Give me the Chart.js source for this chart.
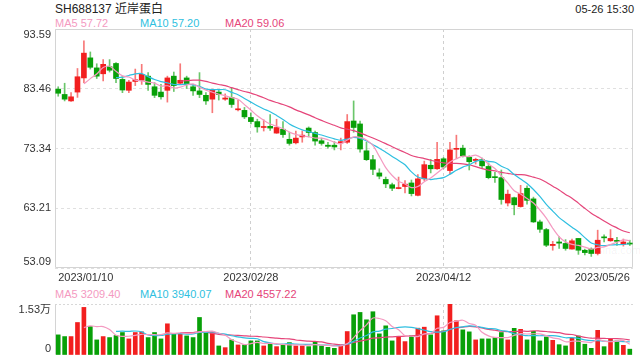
<!DOCTYPE html>
<html>
<head>
<meta charset="utf-8">
<script src="https://cdn.jsdelivr.net/npm/chart.js@4/dist/chart.umd.min.js"></script>
<style>
body{margin:0;width:640px;height:360px;background:#fff;position:relative;overflow:hidden;
  font-family:"Liberation Sans",Arial,"Noto Sans CJK SC",sans-serif;}
.t{position:absolute;white-space:nowrap;line-height:1;}
canvas{position:absolute;left:0;}
</style>
</head>
<body>
<div class="t" style="left:55px;top:3px;font-size:12px;color:#222">SH688137 近岸蛋白</div>
<div class="t" style="right:6px;top:4px;font-size:11px;color:#222">05-26 15:30</div>
<div class="t" style="left:55px;top:18px;font-size:11px;color:#f49ac1">MA5 57.72</div>
<div class="t" style="left:140px;top:18px;font-size:11px;color:#2fbfe0">MA10 57.20</div>
<div class="t" style="left:225px;top:18px;font-size:11px;color:#e5457a">MA20 59.06</div>
<div class="t" style="left:55px;top:289px;font-size:11px;color:#f49ac1">MA5 3209.40</div>
<div class="t" style="left:140px;top:289px;font-size:11px;color:#2fbfe0">MA10 3940.07</div>
<div class="t" style="left:225px;top:289px;font-size:11px;color:#e5457a">MA20 4557.22</div>
<div class="t" style="left:597px;top:245px;font-size:11px;color:rgba(0,0,0,0.06)">sina.com</div>
<canvas id="price" width="640" height="288" style="top:0"></canvas>
<canvas id="vol" width="640" height="60" style="top:300px"></canvas>
<script>
const FONT = '"Liberation Sans", Arial, "Noto Sans CJK SC", sans-serif';

const dates = [
  '2023/01/10','2023/01/11','2023/01/12','2023/01/13','2023/01/16','2023/01/17','2023/01/18','2023/01/19','2023/01/20',
  '2023/01/30','2023/01/31',
  '2023/02/01','2023/02/02','2023/02/03','2023/02/06','2023/02/07','2023/02/08','2023/02/09','2023/02/10',
  '2023/02/13','2023/02/14','2023/02/15','2023/02/16','2023/02/17','2023/02/20','2023/02/21','2023/02/22',
  '2023/02/23','2023/02/24','2023/02/27','2023/02/28',
  '2023/03/01','2023/03/02','2023/03/03','2023/03/06','2023/03/07','2023/03/08','2023/03/09','2023/03/10',
  '2023/03/13','2023/03/14','2023/03/15','2023/03/16','2023/03/17','2023/03/20','2023/03/21','2023/03/22',
  '2023/03/23','2023/03/24','2023/03/27','2023/03/28','2023/03/29','2023/03/30','2023/03/31',
  '2023/04/03','2023/04/04','2023/04/06','2023/04/07','2023/04/10','2023/04/11','2023/04/12','2023/04/13',
  '2023/04/14','2023/04/17','2023/04/18','2023/04/19','2023/04/20','2023/04/21','2023/04/24','2023/04/25',
  '2023/04/26','2023/04/27','2023/04/28',
  '2023/05/04','2023/05/05','2023/05/08','2023/05/09','2023/05/10','2023/05/11','2023/05/12','2023/05/15',
  '2023/05/16','2023/05/17','2023/05/18','2023/05/19','2023/05/22','2023/05/23','2023/05/24','2023/05/25','2023/05/26'
];
const dateTickIdx = [0, 30, 60, 89];
const markerIdx = [30, 60];

const opens = [83.4,82.5,81.4,82.9,85.3,88.7,87.0,86.0,87.2,87.75,85.05,83.2,84.7,84.9,85.6,83.8,82.9,83.2,85.6,84.4,
  85.3,83.8,83.1,82.35,81.7,82.9,81.7,81.96,79.9,79.8,78.6,77.9,76.9,77.1,75.95,76.6,74.9,74.3,75.3,76.8,
  76.05,74.65,73.9,73.9,74.3,74.4,78.0,77.5,72.95,71.45,69.2,68.1,67.2,66.55,66.9,67.5,65.4,68.2,70.5,69.9,
  71.6,69.6,73.2,73.4,71.85,71.3,71.45,70.3,68.5,68.4,64.1,65.0,63.5,66.6,64.8,60.9,59.6,56.9,57.5,57.25,
  56.3,58.1,56.1,56.3,55.55,58.3,57.7,57.7,57.1,57.3];
const highs = [83.8,84.4,82.8,86.9,91.6,89.7,87.7,88.4,88.4,87.9,85.6,84.9,86.8,87.6,86.2,84.5,84.2,85.6,86.3,87.7,
  85.6,84.2,86.2,82.8,83.4,83.25,82.6,83.6,81.55,80.3,79.4,78.3,78.2,79.1,78.3,77.9,76.1,76.3,76.3,77.0,
  76.3,75.1,74.4,74.5,75.1,79.1,81.4,78.0,74.4,72.2,69.9,68.5,67.5,68.5,67.9,68.0,68.9,71.2,71.5,74.4,
  71.8,74.4,75.6,73.9,72.1,71.7,71.7,70.9,69.3,69.7,66.3,65.1,67.1,67.0,65.1,61.2,59.8,57.6,58.4,57.9,
  58.0,58.1,56.3,56.5,59.5,58.7,59.6,58.3,58.0,57.8];
const lows = [82.2,81.4,81.3,82.0,84.5,86.8,85.2,84.8,86.3,84.5,82.8,82.8,84.0,84.2,83.2,81.96,81.7,81.2,83.0,84.2,
  83.5,82.35,81.96,80.8,79.4,81.55,81.5,80.3,79.7,78.4,77.5,76.1,76.3,76.4,75.9,75.2,73.9,74.1,74.4,75.3,
  73.9,73.9,73.4,73.1,73.1,74.2,76.1,72.7,71.3,68.9,68.2,66.7,66.2,66.5,65.8,65.3,65.3,67.9,69.2,69.8,
  69.9,69.0,71.6,71.9,69.7,70.7,70.0,68.2,67.6,63.9,63.6,62.1,63.4,63.9,60.8,59.1,56.7,56.1,56.4,56.1,
  56.3,55.4,55.3,55.05,55.3,57.5,57.6,56.9,56.8,56.9];
const closes = [82.7,81.7,82.1,85.5,89.5,87.1,85.6,87.6,86.6,85.2,83.25,84.6,85.0,85.9,84.2,82.35,82.1,85.3,84.0,84.9,
  84.2,83.1,82.5,81.4,83.2,82.5,81.9,80.8,80.0,78.7,77.9,77.0,77.0,76.8,76.9,75.7,74.2,75.1,75.6,76.05,
  74.6,74.2,73.7,73.6,74.5,77.9,76.9,73.25,71.45,69.8,68.65,67.35,66.6,66.65,67.3,65.7,68.2,70.6,69.9,71.5,
  70.2,73.1,73.3,72.1,71.1,71.5,70.4,68.4,68.4,64.7,65.6,63.8,65.7,64.55,60.9,59.65,56.95,57.1,57.3,56.4,
  57.7,56.1,55.7,55.55,57.8,58.2,58.1,57.6,57.5,57.15];

const ma5 = [null,null,null,null,84.30,85.18,85.96,87.06,87.28,86.42,85.65,85.45,84.93,84.79,84.59,84.41,83.91,83.97,83.59,83.73,
  84.10,84.30,83.74,83.22,82.88,82.54,82.30,81.96,81.68,80.78,79.86,78.88,78.12,77.48,77.12,76.68,76.12,75.74,75.50,75.33,
  75.11,75.11,74.83,74.43,74.12,74.78,75.32,75.23,74.80,73.86,72.01,70.10,68.77,67.81,67.31,66.72,66.89,67.69,68.34,69.18,
  70.08,71.06,71.60,72.04,71.96,72.22,71.68,70.70,69.96,68.68,67.50,66.18,65.64,64.87,64.11,62.92,61.55,59.83,58.38,57.48,
  57.09,56.92,56.64,56.29,56.57,56.67,57.07,57.45,57.84,57.72];
const ma10 = [null,null,null,null,null,null,null,null,null,85.36,85.42,85.71,86.00,86.04,85.51,85.03,84.68,84.45,84.19,84.16,
  84.26,84.11,83.86,83.41,83.31,83.32,83.30,82.85,82.45,81.83,81.20,80.59,80.04,79.58,78.95,78.27,77.50,76.93,76.49,76.23,
  75.90,75.62,75.29,74.97,74.73,74.95,75.22,75.03,74.62,73.99,73.40,72.71,72.00,71.31,70.59,69.37,68.50,68.23,68.08,68.25,
  68.40,68.98,69.65,70.19,70.57,71.15,71.37,71.15,71.00,70.32,69.86,68.93,68.17,67.42,66.40,65.21,63.87,62.74,61.63,60.80,
  60.01,59.24,58.24,57.34,57.03,56.88,57.00,57.05,57.07,57.20];
const ma20 = [null,null,null,null,null,null,null,null,null,null,null,null,null,null,null,null,null,null,null,84.76,
  84.84,84.91,84.93,84.72,84.41,84.18,83.99,83.65,83.32,83.00,82.73,82.35,81.95,81.49,81.13,80.80,80.40,79.89,79.47,79.03,
  78.55,78.10,77.66,77.27,76.84,76.61,76.36,75.98,75.55,75.11,74.65,74.16,73.64,73.14,72.66,72.16,71.86,71.63,71.35,71.12,
  70.90,70.84,70.82,70.75,70.58,70.26,69.93,69.69,69.54,69.28,69.13,68.95,68.91,68.80,68.48,68.18,67.62,66.94,66.31,65.56,
  64.93,64.08,63.20,62.38,61.71,61.05,60.43,59.89,59.35,59.06];

const volumes = [6040,5530,5530,9750,14280,8540,4530,5530,5230,5830,6740,4830,6740,6940,5230,6740,4830,9360,6240,6240,
  5730,5230,11260,6740,6740,2720,2210,4530,3020,3020,4230,4230,2720,3320,2510,3020,3720,2720,2720,2510,
  4020,2720,2310,2010,2720,7040,12070,12770,10560,12980,6340,8750,4230,5530,4020,5830,8050,8350,6040,11770,
  7240,15300,10260,7540,6940,4530,4830,4830,5230,6740,4530,8000,7700,4530,7100,4230,5400,4400,3100,2720,
  5000,5700,3240,2010,7400,2500,4700,4200,2900,1750];
const vma5 = [null,null,null,null,8226,8726,8526,8526,7622,5932,5572,5632,5874,6216,6096,6096,6096,6620,6480,6682,
  6480,6560,6940,7040,7140,6538,5934,4588,3844,3100,3402,3806,3444,3504,3402,3160,3058,3058,2938,2938,
  3138,2938,2856,2714,2756,3360,5230,7322,9032,11084,10944,10280,8572,7566,5774,5672,5532,6356,6458,8008,
  8290,9740,10122,10422,9456,8914,6820,5734,5272,5232,5232,5866,6440,6300,6372,6312,5792,5132,4846,3970,
  4124,4184,3952,3734,4670,4170,3970,4162,4340,3209];
const vma10 = [null,null,null,null,null,null,null,null,null,7079,7149,7079,7200,6919,6014,5834,5864,6247,6348,6389,
  6288,6328,6780,6760,6911,6509,6247,5764,5442,5120,4970,4870,4016,3674,3251,3281,3432,3251,3221,3170,
  3149,2998,2957,2826,2847,3249,4084,5089,5873,6920,7152,7755,7947,8299,8429,8308,7906,7464,7012,6891,
  6981,7636,8239,8440,8732,8602,8280,7928,7847,7344,7073,6343,6087,5786,5802,5772,5829,5786,5573,5171,
  5218,4988,4542,4290,4320,4147,4077,4057,4037,3940];
const vma20 = [null,null,null,null,null,null,null,null,null,null,null,null,null,null,null,null,null,null,null,6734,
  6719,6704,6990,6840,6463,6172,6056,6006,5895,5755,5629,5599,5398,5217,5081,4895,4840,4508,4332,4145,
  4060,3934,3487,3250,3049,3265,3758,4170,4547,5045,5151,5377,5452,5563,5638,5779,5995,6277,6443,6906,
  7067,7696,8093,8370,8581,8455,8093,7696,7430,7118,7027,6990,7163,7113,7267,7187,7055,6857,6710,6258,
  6146,5666,5315,5038,5061,4960,4953,4922,4805,4557];

const priceTicks = [93.59, 83.46, 73.34, 63.21, 53.09];
const volTicks = [0, 15300];
const volTickLabels = ['0', '1.53万'];

const RED = '#f21f1f', GREEN = '#08a008';
const RED_WICK = 'rgba(242,31,31,0.6)', GREEN_WICK = 'rgba(8,160,8,0.6)';
const C_MA5 = '#f49ac1', C_MA10 = '#2fbfe0', C_MA20 = '#e5457a';

const isUp = i => closes[i] >= opens[i];

// light frame / axis line behind the marks
const framePlugin = {
  id: 'frame',
  beforeDatasetsDraw(chart, args, opts) {
    const a = chart.chartArea, ctx = chart.ctx;
    const l = Math.round(a.left) + 0.5, t = Math.round(a.top) + 0.5;
    const r = Math.round(a.right) - 0.5, b = Math.round(a.bottom) - 0.5;
    ctx.save();
    ctx.strokeStyle = opts.color;
    ctx.lineWidth = 1;
    ctx.beginPath();
    ctx.moveTo(l, t); ctx.lineTo(l, b);
    if (opts.box) { ctx.lineTo(r, b); ctx.lineTo(r, t); ctx.lineTo(l, t); }
    ctx.stroke();
    ctx.restore();
  }
};

// y labels, kept inside the plot height like the original
const yLabelPlugin = {
  id: 'yLabels',
  afterDraw(chart, args, opts) {
    const s = chart.scales.y, a = chart.chartArea, ctx = chart.ctx;
    ctx.save();
    ctx.font = '11px ' + FONT;
    ctx.fillStyle = '#333';
    ctx.textAlign = 'right';
    ctx.textBaseline = 'middle';
    opts.values.forEach((v, k) => {
      let y = s.getPixelForValue(v);
      y = Math.min(Math.max(y, a.top + 6), a.bottom - 6);
      ctx.fillText(opts.labels[k], a.left - 4, y);
    });
    ctx.restore();
  }
};

function maLine(data, color, width) {
  return {type: 'line', data, borderColor: color, borderWidth: width, pointRadius: 0,
    tension: 0.3, spanGaps: false, order: 0};
}

function xScale(showLabels) {
  return {
    type: 'category',
    offset: true,
    grid: {
      offset: false, drawTicks: false, lineWidth: 1,
      color: c => markerIdx.includes(c.index) ? '#cfcfcf' : 'rgba(0,0,0,0)'
    },
    border: {display: false, dash: [3, 3]},
    ticks: {
      display: showLabels, autoSkip: false, maxRotation: 0, align: 'inner', padding: 3,
      color: '#333', font: {size: 11, family: FONT},
      callback: (v, i) => dateTickIdx.includes(i) ? dates[i] : ''
    },
    afterFit: s => { s.height = showLabels ? 20 : 0; }
  };
}

new Chart(document.getElementById('price'), {
  type: 'bar',
  data: {
    labels: dates,
    datasets: [
      maLine(ma5, C_MA5, 1.2),
      maLine(ma10, C_MA10, 1.2),
      maLine(ma20, C_MA20, 1.2),
      {
        data: opens.map((o, i) => [o, closes[i]]),
        backgroundColor: c => isUp(c.dataIndex) ? RED : GREEN,
        barThickness: 5, minBarLength: 1, grouped: false, order: 1
      },
      {
        data: lows.map((l, i) => [l, highs[i]]),
        backgroundColor: c => isUp(c.dataIndex) ? RED_WICK : GREEN_WICK,
        barThickness: 1, grouped: false, order: 2
      }
    ]
  },
  options: {
    responsive: false,
    animation: false,
    layout: {padding: {top: 29, right: 7, left: 0, bottom: 0}},
    plugins: {
      legend: {display: false}, tooltip: {enabled: false},
      frame: {color: '#d4d4d4', box: true},
      yLabels: {values: priceTicks, labels: priceTicks.map(v => v.toFixed(2))}
    },
    scales: {
      x: xScale(true),
      y: {
        min: priceTicks[priceTicks.length - 1], max: priceTicks[0],
        afterBuildTicks: s => { s.ticks = priceTicks.map(v => ({value: v})); },
        afterFit: s => { s.width = 55; },
        ticks: {display: false},
        grid: {drawTicks: false, color: '#e0e0e0', lineWidth: 1},
        border: {display: false, dash: [3, 3]}
      }
    }
  },
  plugins: [framePlugin, yLabelPlugin]
});

new Chart(document.getElementById('vol'), {
  type: 'bar',
  data: {
    labels: dates,
    datasets: [
      maLine(vma5, C_MA5, 1.2),
      maLine(vma10, C_MA10, 1.2),
      maLine(vma20, C_MA20, 1.2),
      {
        data: volumes,
        backgroundColor: c => isUp(c.dataIndex) ? RED : GREEN,
        barThickness: 4, grouped: false, order: 1
      }
    ]
  },
  options: {
    responsive: false,
    animation: false,
    layout: {padding: {top: 4, right: 7, left: 0, bottom: 5}},
    plugins: {
      legend: {display: false}, tooltip: {enabled: false},
      frame: {color: '#d4d4d4', box: false},
      yLabels: {values: volTicks, labels: volTickLabels}
    },
    scales: {
      x: xScale(false),
      y: {
        min: volTicks[0], max: volTicks[1],
        afterBuildTicks: s => { s.ticks = volTicks.map(v => ({value: v})); },
        afterFit: s => { s.width = 55; },
        ticks: {display: false},
        grid: {drawTicks: false, lineWidth: 1,
          color: c => c.tick && c.tick.value === volTicks[1] ? '#d8d8d8' : 'rgba(0,0,0,0)'},
        border: {display: false, dash: [2, 2]}
      }
    }
  },
  plugins: [framePlugin, yLabelPlugin]
});
</script>
</body>
</html>
